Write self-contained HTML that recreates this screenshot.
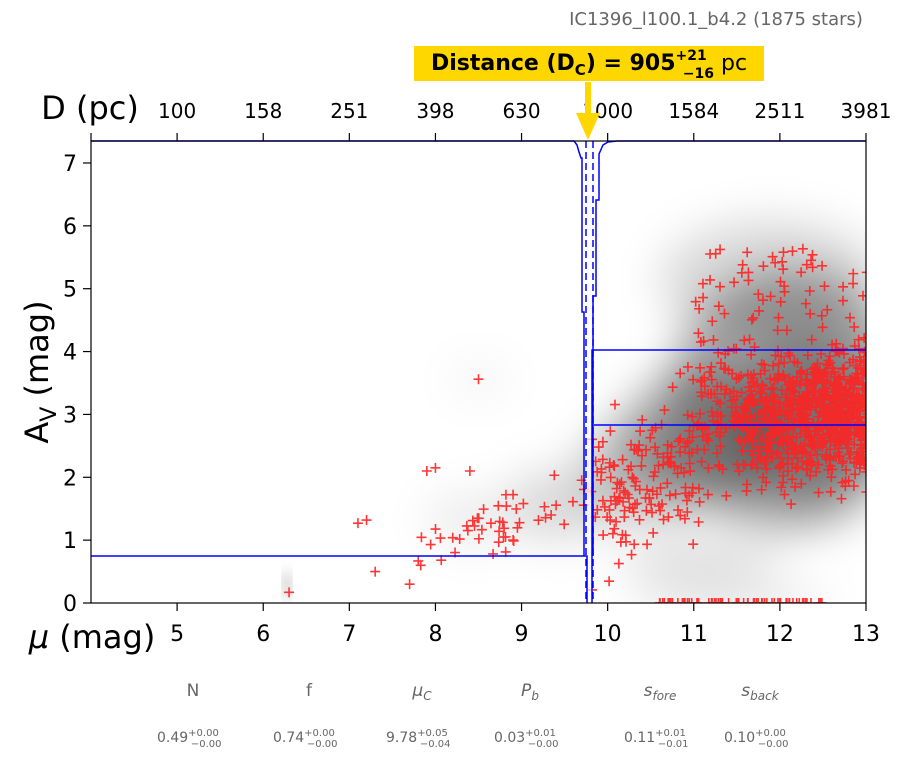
<!DOCTYPE html>
<html><head><meta charset="utf-8"><style>
body{margin:0;background:#fff;width:902px;height:759px;overflow:hidden;font-family:"Liberation Sans","DejaVu Sans",sans-serif}
</style></head><body>
<svg id="s" width="902" height="759" xmlns="http://www.w3.org/2000/svg" font-family="DejaVu Sans, Liberation Sans, sans-serif">
<defs>
<filter id="b1" x="-50%" y="-50%" width="200%" height="200%"><feGaussianBlur stdDeviation="22"/></filter>
<filter id="b2" x="-50%" y="-50%" width="200%" height="200%"><feGaussianBlur stdDeviation="6"/></filter>
<clipPath id="c"><rect x="91" y="141" width="775" height="462"/></clipPath>
</defs>
<g clip-path="url(#c)">
<g filter="url(#b1)" fill="#000">
<ellipse cx="790" cy="400" rx="120" ry="130" opacity="0.35"/>
<ellipse cx="810" cy="420" rx="70" ry="80" opacity="0.3"/>
<ellipse cx="700" cy="440" rx="80" ry="70" opacity="0.3"/>
<ellipse cx="640" cy="470" rx="60" ry="50" opacity="0.22"/>
<ellipse cx="770" cy="280" rx="110" ry="60" opacity="0.15"/>
<ellipse cx="560" cy="505" rx="55" ry="35" opacity="0.15"/>
<ellipse cx="470" cy="520" rx="45" ry="25" opacity="0.08"/>
<ellipse cx="480" cy="380" rx="30" ry="12" opacity="0.07"/>
<ellipse cx="700" cy="560" rx="80" ry="25" opacity="0.12"/>
<ellipse cx="730" cy="600" rx="100" ry="10" opacity="0.15"/>
</g>
<g filter="url(#b2)" fill="#000"><ellipse cx="287" cy="585" rx="3" ry="15" opacity="0.3"/></g>
<g id="pts" stroke="#f22" stroke-width="1.6" opacity="0.9"></g>
<rect x="586" y="141" width="7" height="462" fill="#fff" opacity="0.7"/>
</g>
<g fill="none" stroke="#00f" stroke-width="1.5">
<polyline points="91,556 587,556 587,603"/>
<polyline points="592,603 592,350 866,350"/>
<polyline points="594,425 866,425"/>
<polyline points="91,141 574,141 577,145 579,152 581,158 582,158 582,312 584,312 584,556"/>
<polyline points="593,556 593,296 596,296 596,200 599,200 599,154 603,145 608,142 617,141 866,141"/>
<line x1="586" y1="141" x2="586" y2="603" stroke-dasharray="7,4"/>
<line x1="593" y1="141" x2="593" y2="603" stroke-dasharray="7,4"/>
</g>
<rect x="91" y="141" width="775" height="462" fill="none" stroke="#000" stroke-width="1.2"/>
<g id="ticks" stroke="#000" stroke-width="1.2"></g>
<g font-size="20" fill="#000" text-anchor="middle" id="tl"></g>
<text x="90" y="119" font-size="32" text-anchor="middle">D (pc)</text>
<text x="92" y="648" font-size="32" text-anchor="middle"><tspan font-style="italic">μ</tspan> (mag)</text>
<text transform="translate(48,372) rotate(-90)" font-size="32" text-anchor="middle">A<tspan font-size="22" dy="8">V</tspan><tspan dy="-8"> (mag)</tspan></text>
<text x="716" y="25" font-size="18" fill="#666" text-anchor="middle">IC1396_l100.1_b4.2 (1875 stars)</text>
<rect x="414" y="46" width="350" height="35" fill="#ffd700"/>
<text x="589" y="70" font-size="22" text-anchor="middle" fill="#000"><tspan font-weight="bold">Distance (D<tspan font-size="15" dy="5">C</tspan><tspan dy="-5">) = 905</tspan></tspan><tspan font-size="14" font-weight="bold" dy="-10">+21</tspan><tspan font-size="14" font-weight="bold" dx="-24" dy="18">−16</tspan><tspan dy="-8"> pc</tspan></text>
<polygon points="576,113 600,113 588,140" fill="#ffd700"/>
<rect x="585" y="82" width="6" height="32" fill="#ffd700"/>
<g font-size="17" fill="#666" text-anchor="middle">
<text x="193" y="696">N</text><text x="309" y="696">f</text>
<text x="422" y="696" font-style="italic">μ<tspan font-size="12" dy="4">C</tspan></text>
<text x="530" y="696" font-style="italic">P<tspan font-size="12" dy="4">b</tspan></text>
<text x="660" y="696" font-style="italic">s<tspan font-size="12" dy="4">fore</tspan></text>
<text x="760" y="696" font-style="italic">s<tspan font-size="12" dy="4">back</tspan></text>
</g>
<g font-size="14" fill="#666" id="vals"></g>
</svg>
<script>
var s="http://www.w3.org/2000/svg";
function el(p,t,a,txt){var e=document.createElementNS(s,t);for(var k in a)e.setAttribute(k,a[k]);if(txt!=null)e.textContent=txt;p.appendChild(e);return e;}
var X=function(m){return 91+(m-4)*86.11},Y=function(a){return 603-a*62.86};
var tk=document.getElementById('ticks'),tl=document.getElementById('tl');
for(var m=5;m<=13;m++){el(tk,'line',{x1:X(m),x2:X(m),y1:603,y2:611});el(tl,'text',{x:X(m),y:641,'font-size':22},m);}
for(var a=0;a<=7;a++){el(tk,'line',{x1:83,x2:91,y1:Y(a),y2:Y(a)});el(tl,'text',{x:77,y:Y(a)+8,'font-size':22,'text-anchor':'end'},a);}
var D=[100,158,251,398,630,1000,1584,2511,3981];
for(var i=0;i<9;i++){var x=X(5+i);el(tk,'line',{x1:x,x2:x,y1:141,y2:133});el(tl,'text',{x:x,y:118},D[i]);}
el(tk,'line',{x1:91,x2:91,y1:141,y2:133});
var V=[["0.49",193],["0.74",309],["9.78",422],["0.03",530],["0.11",660],["0.10",760]];
var U=[["+0.00","−0.00"],["+0.00","−0.00"],["+0.05","−0.04"],["+0.01","−0.00"],["+0.01","−0.01"],["+0.00","−0.00"]];
var vg=document.getElementById('vals');
V.forEach(function(v,i){var t=el(vg,'text',{x:v[1]-36,y:742});el(t,'tspan',{},v[0]);el(t,'tspan',{'font-size':10,dy:-6},U[i][0]);el(t,'tspan',{'font-size':10,dx:-28,dy:11},U[i][1]);});
var seed=11;function r(){seed=(seed*16807)%2147483647;return seed/2147483647;}
function g(){return (r()+r()+r()+r()+r()+r()-3)*0.8;}
var pg=document.getElementById('pts');
function plus(m,a){var x=X(m),y=Y(a);el(pg,'path',{d:'M'+(x-5)+' '+y+'h10M'+x+' '+(y-5)+'v10'});}
for(var i=0;i<50;i++){var m=7.8+r()*2;plus(m,0.8+(m-7.8)*0.45+g()*0.4);}
for(var i=0;i<150;i++){var m=9.8+r()*1.3;plus(m,1.5+(m-9.8)*0.7+g()*1.0);}
for(var i=0;i<900;i++){var m=10.9+Math.sqrt(r())*2.2;plus(m,3.0+g()*0.85);}
for(var i=0;i<180;i++){var m=10.9+r()*2.2;plus(m,1.7+r()*4.0);}
for(var i=0;i<70;i++){plus(10.6+r()*1.9,0);}
plus(6.3,0.17);plus(8.5,3.56);plus(7.7,0.3);plus(7.3,0.5);plus(7.1,1.27);plus(7.2,1.32);plus(7.9,2.1);plus(8.0,2.15);plus(8.4,2.1);
</script>
</body></html>
